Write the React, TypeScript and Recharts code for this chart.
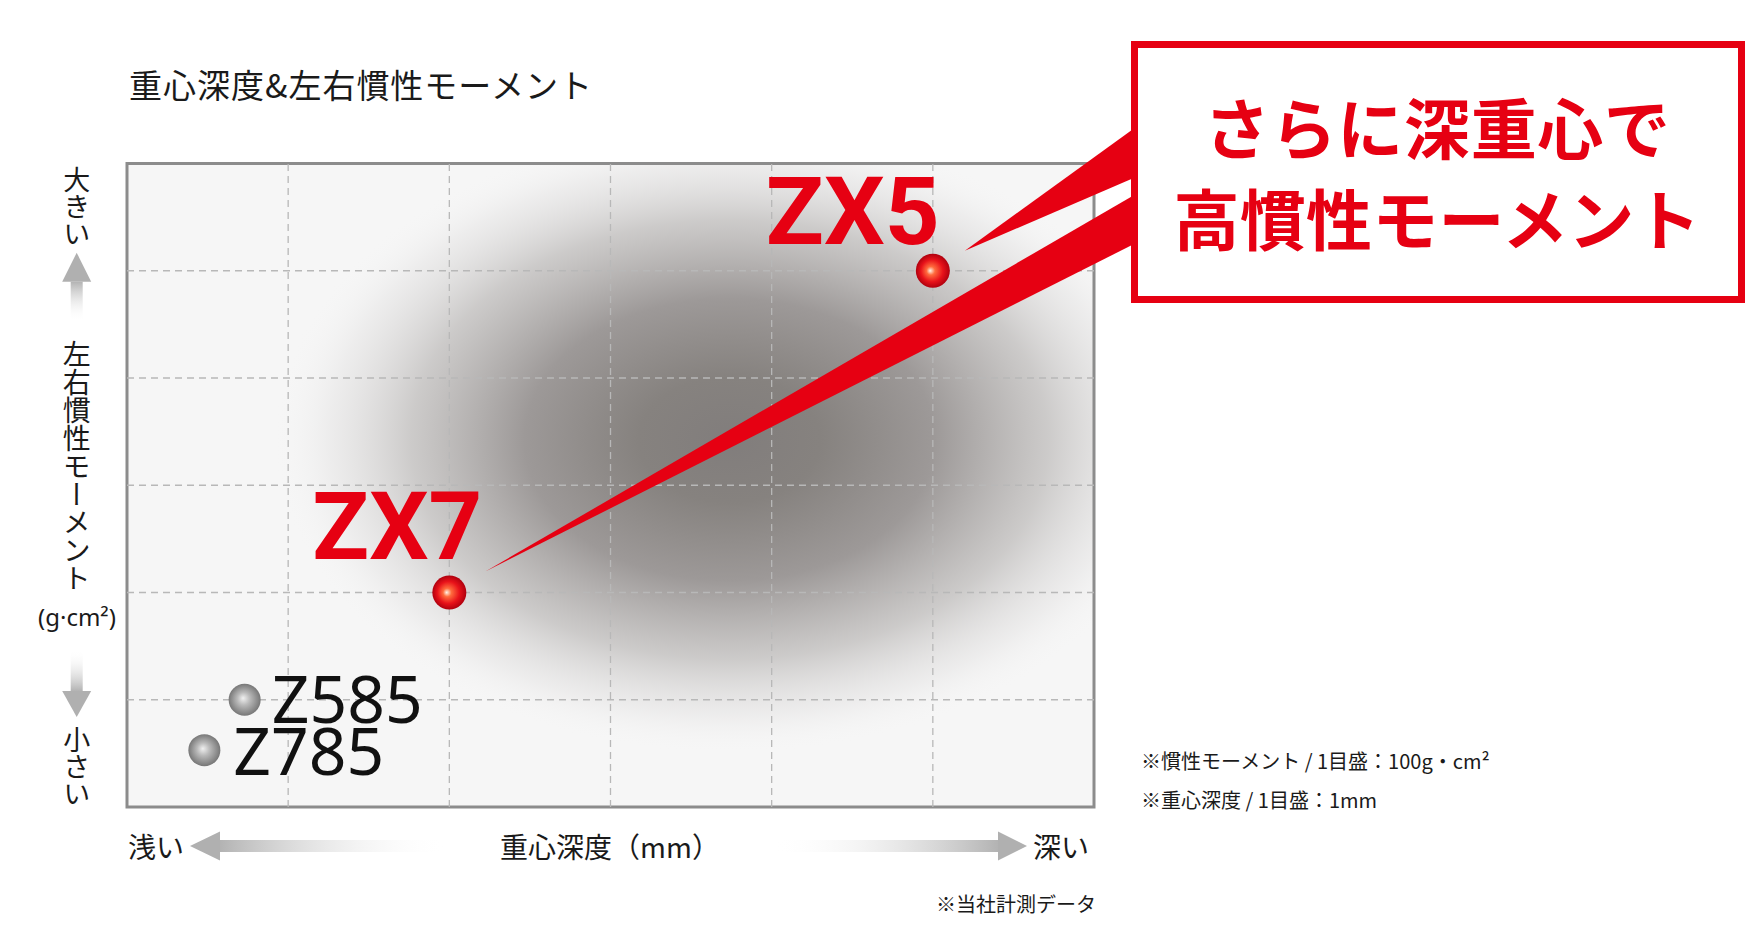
import React from 'react';
import {
  ScatterChart,
  Scatter,
  XAxis,
  YAxis,
  ReferenceArea,
  ReferenceLine,
} from 'recharts';

// depth of CG (mm, 1 step = 1mm) vs. MOI (1 step = 100 g·cm²), relative grid units
const zxModels = ['ZX7', 'ZX5'];
const zxDepth = [2, 5];
const zxMoment = [2, 5];
const zModels = ['Z585', 'Z785'];
const zDepth = [0.73, 0.48];
const zMoment = [1.0, 0.53];
const gridTicks = [0, 1, 2, 3, 4, 5, 6];

const zxData = zxModels.map((name, i) => ({ name, x: zxDepth[i], y: zxMoment[i] }));
const zData = zModels.map((name, i) => ({ name, x: zDepth[i], y: zMoment[i] }));
const innerTicks = gridTicks.slice(1, -1);

const W = 1757;
const H = 927;
const RED = '#e60012';
const JP = '"Noto Sans CJK JP", "Noto Sans", sans-serif';

// label placement relative to each dot (px)
const labelPos: Record<string, { dx: number; dy: number; anchor: 'start' | 'end'; len: number }> = {
  ZX5: { dx: 7, dy: -27, anchor: 'end', len: 174 },
  ZX7: { dx: 33, dy: -34, anchor: 'end', len: 170 },
  Z585: { dx: 27, dy: 23, anchor: 'start', len: 150 },
  Z785: { dx: 29, dy: 25, anchor: 'start', len: 145 },
};

// callout wedges: tip offset from dot, end span on the box edge
const boxEdge = 1136;
const wedges: Record<string, { tip: [number, number]; y0: number; y1: number }> = {
  ZX5: { tip: [32, -20], y0: 127, y1: 177 },
  ZX7: { tip: [36, -21], y0: 194, y1: 243 },
};

const RedDot = (props: any) => {
  const { cx, cy, payload } = props;
  const lp = labelPos[payload.name];
  const wg = wedges[payload.name];
  return (
    <g>
      {wg && (
        <polygon
          points={`${cx + wg.tip[0]},${cy + wg.tip[1]} ${boxEdge},${wg.y0} ${boxEdge},${wg.y1}`}
          fill={RED}
        />
      )}
      <circle cx={cx} cy={cy} r={17} fill="url(#redBall)" />
      <text
        x={cx + lp.dx}
        y={cy + lp.dy}
        textAnchor={lp.anchor}
        fill={RED}
        fontFamily="Roboto, 'Noto Sans', sans-serif"
        fontWeight={700}
        fontSize={95}
        textLength={lp.len}
        lengthAdjust="spacingAndGlyphs"
      >
        {payload.name}
      </text>
    </g>
  );
};

const GrayDot = (props: any) => {
  const { cx, cy, payload } = props;
  const lp = labelPos[payload.name];
  return (
    <g>
      <circle cx={cx} cy={cy} r={16} fill="url(#grayBall)" />
      <text
        x={cx + lp.dx}
        y={cy + lp.dy}
        textAnchor={lp.anchor}
        fill="#111"
        fontFamily="'Noto Sans', sans-serif"
        fontSize={66}
      >
        {payload.name}
      </text>
    </g>
  );
};

const VText = ({ text, cx, top, size }: { text: string; cx: number; top: number; size: number }) => (
  <div
    style={{
      position: 'absolute',
      left: cx - size / 2,
      top,
      width: size,
      fontSize: size,
      lineHeight: 1,
      writingMode: 'vertical-rl',
      fontFamily: JP,
      color: '#1a1a1a',
      whiteSpace: 'nowrap',
    }}
  >
    {text}
  </div>
);

export default function App() {
  return (
    <div style={{ position: 'absolute', left: 0, top: 0, width: W, height: H, background: '#fff', overflow: 'hidden' }}>
      <svg width={0} height={0} style={{ position: 'absolute' }}>
        <defs>
          <radialGradient id="redBall" cx="0.5" cy="0.5" r="0.5" fx="0.42" fy="0.5">
            <stop offset="0" stopColor="#fff3e6" />
            <stop offset="0.25" stopColor="#ff6b3d" />
            <stop offset="0.65" stopColor="#e8121a" />
            <stop offset="1" stopColor="#b0000e" />
          </radialGradient>
          <radialGradient id="grayBall" cx="0.5" cy="0.5" r="0.5" fx="0.45" fy="0.45">
            <stop offset="0" stopColor="#f0f0f0" />
            <stop offset="0.4" stopColor="#b9b9b9" />
            <stop offset="1" stopColor="#777" />
          </radialGradient>
          <radialGradient id="blob" cx="0.52" cy="0.5" r="0.5">
            <stop offset="0" stopColor="#817d7c" stopOpacity={1} />
            <stop offset="0.2" stopColor="#86827f" stopOpacity={1} />
            <stop offset="0.45" stopColor="#9d9998" stopOpacity={1} />
            <stop offset="0.7" stopColor="#c5c3c2" stopOpacity={0.85} />
            <stop offset="0.88" stopColor="#e4e3e3" stopOpacity={0.5} />
            <stop offset="1" stopColor="#f6f6f6" stopOpacity={0} />
          </radialGradient>
          <linearGradient id="shaftL" x1="0" y1="0" x2="1" y2="0">
            <stop offset="0" stopColor="#b3b3b3" />
            <stop offset="1" stopColor="#fff" stopOpacity={0} />
          </linearGradient>
          <linearGradient id="shaftR" x1="0" y1="0" x2="1" y2="0">
            <stop offset="0" stopColor="#fff" stopOpacity={0} />
            <stop offset="1" stopColor="#b3b3b3" />
          </linearGradient>
          <linearGradient id="shaftU" x1="0" y1="0" x2="0" y2="1">
            <stop offset="0" stopColor="#b3b3b3" />
            <stop offset="1" stopColor="#fff" stopOpacity={0} />
          </linearGradient>
          <linearGradient id="shaftD" x1="0" y1="0" x2="0" y2="1">
            <stop offset="0" stopColor="#fff" stopOpacity={0} />
            <stop offset="1" stopColor="#b3b3b3" />
          </linearGradient>
        </defs>
      </svg>

      <ScatterChart width={W} height={H} margin={{ top: 163.5, right: 663, bottom: 120, left: 127 }}>
        <XAxis type="number" dataKey="x" domain={[0, 6]} ticks={gridTicks} hide />
        <YAxis type="number" dataKey="y" domain={[0, 6]} ticks={gridTicks} hide />
        <ReferenceArea x1={0} x2={6} y1={0} y2={6} fill="#f6f6f6" fillOpacity={1} stroke="none" />
        <ReferenceArea
          x1={0.8}
          x2={6.45}
          y1={0.5}
          y2={6.35}
          fill="url(#blob)"
          fillOpacity={1}
          stroke="none"
          ifOverflow="hidden"
        />
        {innerTicks.map((t) => (
          <ReferenceLine key={'x' + t} x={t} stroke="#b8b8b8" strokeWidth={1.3} strokeDasharray="7 5" />
        ))}
        {innerTicks.map((t) => (
          <ReferenceLine key={'y' + t} y={t} stroke="#b8b8b8" strokeWidth={1.3} strokeDasharray="7 5" />
        ))}
        <ReferenceArea x1={0} x2={6} y1={0} y2={6} fill="none" stroke="#8c8c8c" strokeWidth={3} />
        <Scatter data={zData} dataKey="y" shape={GrayDot} isAnimationActive={false} />
        <Scatter data={zxData} dataKey="y" shape={RedDot} isAnimationActive={false} />
      </ScatterChart>

      <svg width={W} height={H} style={{ position: 'absolute', left: 0, top: 0 }}>
        {/* callout box */}
        <rect x={1134.5} y={44.5} width={607} height={255} fill="#fff" stroke={RED} strokeWidth={7} />
        <text x={1437} y={125} textAnchor="middle" dominantBaseline="central" fill={RED}
          fontFamily={JP} fontWeight={700} fontSize={66} textLength={466}>さらに深重心で</text>
        <text x={1437} y={216} textAnchor="middle" dominantBaseline="central" fill={RED}
          fontFamily={JP} fontWeight={700} fontSize={66} textLength={527}>高慣性モーメント</text>

        {/* title */}
        <text x={129} y={84} dominantBaseline="central" fill="#1a1a1a" fontFamily={JP} fontSize={33}
          textLength={463}>
          重心深度&amp;左右慣性モーメント
        </text>

        {/* y direction arrows */}
        <polygon points="76.7,252.7 62.2,281.7 91.2,281.7" fill="#b0b0b0" />
        <rect x={70.7} y={281.7} width={12} height={40} fill="url(#shaftU)" />
        <rect x={70.7} y={650} width={12} height={41} fill="url(#shaftD)" />
        <polygon points="62.2,691 91.2,691 76.7,717" fill="#b0b0b0" />
        <text x={77} y={616} textAnchor="middle" dominantBaseline="central" fill="#1a1a1a"
          fontFamily="'Noto Sans', sans-serif" fontSize={24}>(g·cm²)</text>

        {/* x direction arrows */}
        <polygon points="190,846 220,831.5 220,860.5" fill="#b0b0b0" />
        <rect x={220} y={840} width={227} height={12} fill="url(#shaftL)" />
        <rect x={773} y={840} width={225} height={12} fill="url(#shaftR)" />
        <polygon points="1027,846 998,831.5 998,860.5" fill="#b0b0b0" />
        <text x={128} y={846} dominantBaseline="central" fill="#1a1a1a" fontFamily={JP} fontSize={28}>浅い</text>
        <text x={610} y={846} textAnchor="middle" dominantBaseline="central" fill="#1a1a1a" fontFamily={JP} fontSize={28}>
          重心深度（mm）
        </text>
        <text x={1033} y={846} dominantBaseline="central" fill="#1a1a1a" fontFamily={JP} fontSize={28}>深い</text>

        {/* notes */}
        <text x={1141} y={760} dominantBaseline="central" fill="#1a1a1a" fontFamily={JP} fontSize={20}>
          ※慣性モーメント / 1目盛：100g・cm²
        </text>
        <text x={1141} y={799} dominantBaseline="central" fill="#1a1a1a" fontFamily={JP} fontSize={20}>
          ※重心深度 / 1目盛：1mm
        </text>
        <text x={936} y={903} dominantBaseline="central" fill="#1a1a1a" fontFamily={JP} fontSize={20}>
          ※当社計測データ
        </text>
      </svg>

      <VText text="大きい" cx={76.7} top={166} size={27} />
      <VText text="左右慣性モーメント" cx={76.7} top={340} size={28} />
      <VText text="小さい" cx={76.7} top={726} size={27} />
    </div>
  );
}
